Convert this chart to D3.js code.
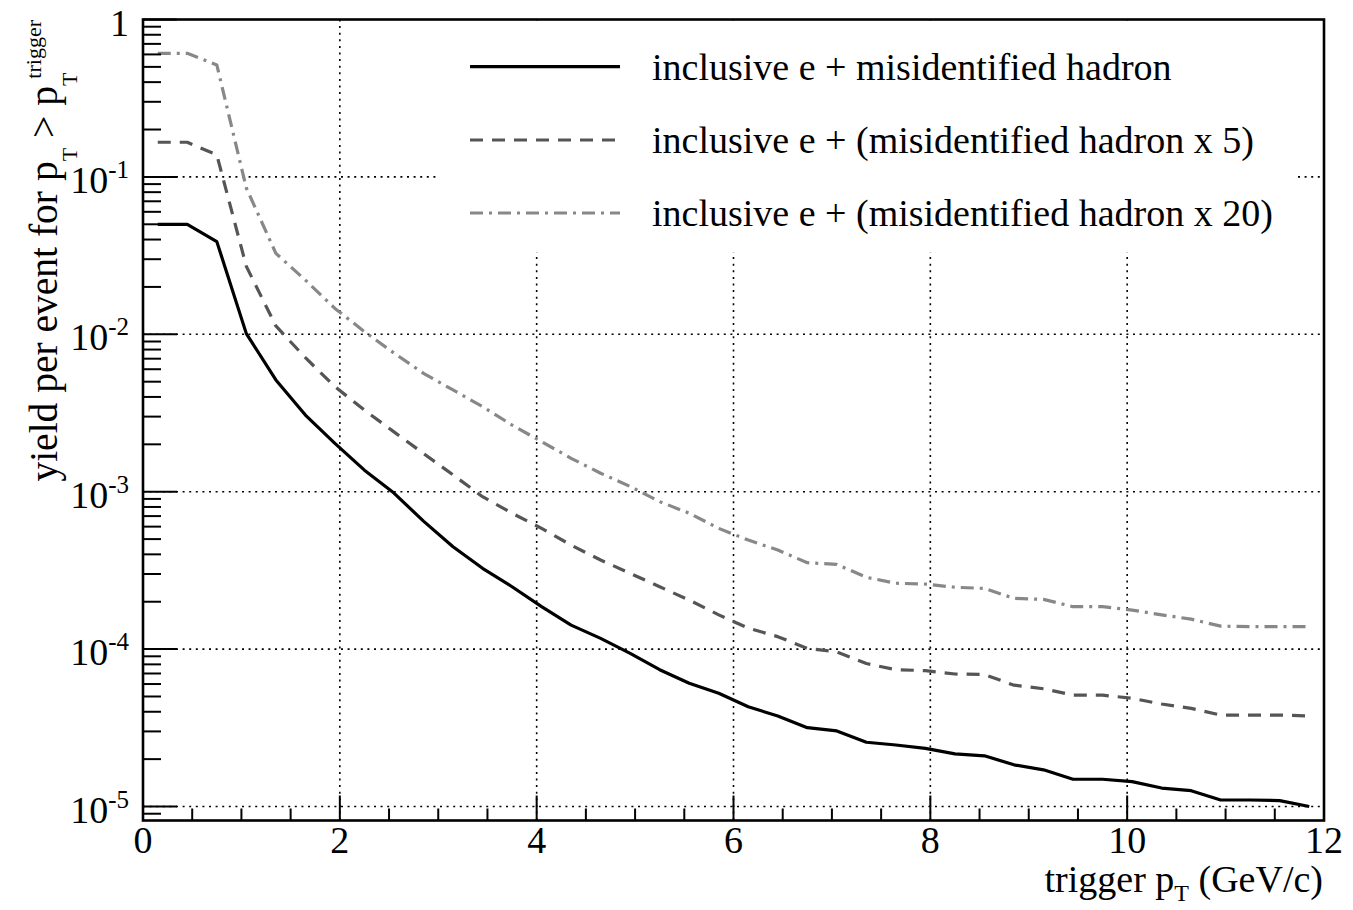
<!DOCTYPE html>
<html>
<head>
<meta charset="utf-8">
<script src="https://cdn.jsdelivr.net/npm/d3@7"></script>
<style>
  html, body { margin: 0; padding: 0; background: #fff; }
  svg, svg text { font-family: 'Liberation Serif', 'Times New Roman', Times, 'DejaVu Serif', serif; }
</style>
</head>
<body>
<svg id="chart" width="1353" height="910" font-family="Liberation Serif, Times New Roman, Times, DejaVu Serif, serif"></svg>
<script>
// ---- data ----
const triggerPt = [0.15,0.45,0.75,1.05,1.35,1.65,1.95,2.25,2.55,2.85,3.15,3.45,3.75,4.05,4.35,4.65,4.95,5.25,5.55,5.85,
                   6.15,6.45,6.75,7.05,7.35,7.65,7.95,8.25,8.55,8.85,9.15,9.45,9.75,10.05,10.35,10.65,10.95,11.25,11.55,11.85];
const yieldX1 = [0.05,0.05,0.0388,0.0101,0.00513,0.00307,0.00203,0.00137,0.00098,0.00065,
                 4.47e-4,3.26e-4,2.49e-4,1.86e-4,1.42e-4,1.17e-4,9.4e-5,7.4e-5,6.07e-5,5.24e-5,
                 4.3e-5,3.76e-5,3.17e-5,3.02e-5,2.56e-5,2.46e-5,2.34e-5,2.16e-5,2.10e-5,1.84e-5,
                 1.71e-5,1.49e-5,1.49e-5,1.44e-5,1.31e-5,1.26e-5,1.10e-5,1.10e-5,1.09e-5,1.0e-5];
const yieldX5 = [0.166,0.166,0.138,0.027,0.0113,0.0071,0.00465,0.0033,0.0024,0.00175,
                 0.00128,9.3e-4,7.3e-4,5.85e-4,4.58e-4,3.68e-4,3.03e-4,2.49e-4,2.05e-4,1.65e-4,
                 1.36e-4,1.2e-4,1.01e-4,9.6e-5,8.1e-5,7.4e-5,7.3e-5,6.95e-5,6.9e-5,5.9e-5,
                 5.6e-5,5.1e-5,5.1e-5,4.87e-5,4.48e-5,4.2e-5,3.81e-5,3.81e-5,3.81e-5,3.76e-5];
const yieldX20 = [0.61,0.61,0.514,0.085,0.0327,0.0221,0.0146,0.0104,0.0076,0.00565,
                  0.00443,0.00347,0.00265,0.00208,0.00163,0.00131,0.00108,8.65e-4,7.3e-4,5.85e-4,
                  4.93e-4,4.26e-4,3.54e-4,3.45e-4,2.86e-4,2.62e-4,2.59e-4,2.47e-4,2.43e-4,2.1e-4,
                  2.07e-4,1.86e-4,1.86e-4,1.77e-4,1.65e-4,1.55e-4,1.40e-4,1.39e-4,1.39e-4,1.39e-4];
const seriesLabels = ["inclusive e + misidentified hadron",
                      "inclusive e + (misidentified hadron x 5)",
                      "inclusive e + (misidentified hadron x 20)"];
const xTickValues = [0,2,4,6,8,10,12];
const yTickExponents = [0,-1,-2,-3,-4,-5];

// ---- layout ----
const FONT = "Liberation Serif, Times New Roman, Times, DejaVu Serif, serif";
const L = 143, R = 1324, T = 19.5, B = 820.5;
const svg = d3.select("#chart");
svg.append("rect").attr("width",1353).attr("height",910).attr("fill","#fff");

const x = d3.scaleLinear().domain([0,12]).range([L,R]);
const y = d3.scaleLog().domain([8.15e-6,1]).range([B,T]);

// grid
const grid = svg.append("g").attr("stroke","#000").attr("stroke-width",1.6).attr("stroke-dasharray","2,4.6");
grid.selectAll("line.v").data(xTickValues.filter(v=>v>0 && v<12)).join("line")
  .attr("x1",d=>x(d)).attr("x2",d=>x(d)).attr("y1",T).attr("y2",B);
grid.selectAll("line.h").data(yTickExponents.filter(e=>e<0)).join("line")
  .attr("x1",L).attr("x2",R).attr("y1",e=>y(Math.pow(10,e))).attr("y2",e=>y(Math.pow(10,e)));

// legend box (white, covers grid)
svg.append("rect").attr("x",436).attr("y",T+1).attr("width",860).attr("height",232).attr("fill","#fff");

// series
const styles = [
  {data: yieldX1,  color:"#000000", width:3.2, dash:null},
  {data: yieldX5,  color:"#555555", width:3.2, dash:"13,9"},
  {data: yieldX20, color:"#888888", width:3.2, dash:"13,6,3,6"}
];
const line = d3.line().x(d=>x(d[0])).y(d=>y(d[1]));
styles.forEach(s=>{
  svg.append("path")
    .datum(triggerPt.map((p,i)=>[p,s.data[i]]))
    .attr("d",line).attr("fill","none")
    .attr("stroke",s.color).attr("stroke-width",s.width)
    .attr("stroke-dasharray",s.dash).attr("stroke-linejoin","round");
});

// axes ticks
const axG = svg.append("g").attr("stroke","#000").attr("stroke-width",2);
const yMinor = [];
for (let e=-6; e<0; e++) for (let m=2; m<=9; m++) { const v=m*Math.pow(10,e); if (v>=8.15e-6 && v<1) yMinor.push(v); }
axG.selectAll("line.ymin").data(yMinor).join("line")
  .attr("x1",L).attr("x2",L+18).attr("y1",d=>y(d)).attr("y2",d=>y(d));
axG.selectAll("line.ymaj").data(yTickExponents).join("line")
  .attr("x1",L).attr("x2",L+34).attr("y1",e=>y(Math.pow(10,e))).attr("y2",e=>y(Math.pow(10,e)));
const xMinor = d3.range(0,12.01,0.5).filter(v=>v%2!==0);
axG.selectAll("line.xmin").data(xMinor).join("line")
  .attr("x1",d=>x(d)).attr("x2",d=>x(d)).attr("y1",B).attr("y2",B-12);
axG.selectAll("line.xmaj").data(xTickValues).join("line")
  .attr("x1",d=>x(d)).attr("x2",d=>x(d)).attr("y1",B).attr("y2",B-25);

// frame
svg.append("rect").attr("x",L).attr("y",T).attr("width",R-L).attr("height",B-T)
  .attr("fill","none").attr("stroke","#000").attr("stroke-width",2.6);

// y tick labels
const yl = svg.append("g").attr("font-size",38).attr("fill","#000").attr("font-family",FONT);
yTickExponents.forEach(e=>{
  const t = yl.append("text").attr("x",129).attr("y",y(Math.pow(10,e))+16).attr("text-anchor","end");
  if (e===0) { t.text("1"); }
  else {
    t.append("tspan").text("10");
    t.append("tspan").attr("font-size",25).attr("dy",-15).text(String(e));
  }
});

// x tick labels
svg.append("g").attr("font-size",38).attr("font-family",FONT).selectAll("text").data(xTickValues).join("text")
  .attr("x",d=>x(d)).attr("y",853).attr("text-anchor","middle").text(d=>d);

// x title
const xt = svg.append("text").attr("x",1323).attr("y",892).attr("text-anchor","end")
  .attr("font-size",38).attr("font-family",FONT);
xt.append("tspan").text("trigger p");
xt.append("tspan").attr("font-size",24).attr("dy",9).text("T");
xt.append("tspan").attr("dy",-9).text(" (GeV/c)");

// y title
const yt = svg.append("text").attr("transform","translate(57,20) rotate(-90)")
  .attr("text-anchor","end").attr("font-size",39.5).attr("font-family",FONT);
yt.append("tspan").text("yield per event for p");
yt.append("tspan").attr("font-size",22).attr("dy",20).text("T");
yt.append("tspan").attr("dy",-20).text(" > p");
yt.append("tspan").attr("font-size",22).attr("dy",20).text("T");
yt.append("tspan").attr("font-size",22).attr("dx",-6).attr("dy",-36).text("trigger");

// legend
const lg = svg.append("g").attr("font-family",FONT);
const legY = [66.7, 140, 213];
styles.forEach((s,i)=>{
  lg.append("line").attr("x1",470).attr("x2",620).attr("y1",legY[i]).attr("y2",legY[i])
    .attr("stroke",s.color).attr("stroke-width",s.width).attr("stroke-dasharray",s.dash);
  lg.append("text").attr("x",652).attr("y",legY[i]+13).attr("font-size",38).text(seriesLabels[i]);
});
</script>
</body>
</html>
